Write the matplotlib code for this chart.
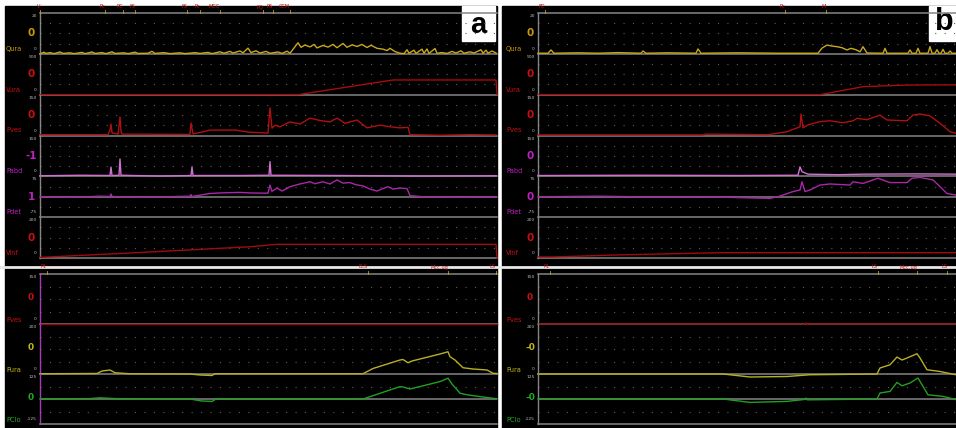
import matplotlib
matplotlib.use('Agg')
import matplotlib.pyplot as plt
from matplotlib.patches import Rectangle
from matplotlib.transforms import blended_transform_factory
import numpy as np

W, H = 956, 428

# ------------------------------------------------------------------ data
# t = seconds from the left axis of each panel, values in channel units
TOP_NAMES = ['Qura', 'Vura', 'Pves', 'Pabd', 'Pdet', 'Vinf']
TOP_LIMS = [(0, 20), (0, 500), (0, 150), (0, 150), (-75, 75), (0, 200)]
BOT_NAMES = ['Pves', 'Pura', 'PClo']
BOT_LIMS = [(0, 150), (0, 200), (-125, 125)]

A_TOP_READ = ['0', '0', '0', '-1', '1', '0']
B_TOP_READ = ['0', '0', '0', '0', '0', '0']
A_BOT_READ = ['0', '0', '0']
B_BOT_READ = ['0', '-0', '-0']

a_qura = [(0, 0), (4, 0.8), (6, 0.2), (10, 0.6), (14, 0.1), (20, 0.9), (23, 0.2),
          (30, 0.5), (34, 0.1), (42, 0.7), (45, 0.1), (52, 0.9), (55, 0.2), (62, 0.6),
          (66, 0.1), (72, 1.0), (75, 0.2), (84, 0.5), (88, 0.1), (95, 0.8), (98, 0.2),
          (108, 0.3), (112, 1.2), (115, 0.2), (124, 0.6), (130, 0.1), (140, 0.5),
          (145, 0.1), (155, 0.6), (160, 0.2), (168, 0.7), (172, 0.1), (180, 1.0),
          (184, 0.3), (190, 1.2), (193, 0.4), (200, 1.4), (203, 0.5), (208, 2.8),
          (211, 0.6), (216, 1.5), (220, 0.4), (226, 1.2), (230, 0.3), (238, 0.9),
          (242, 0.2), (247, 1.3), (250, 0.3), (255, 3.5), (258, 5.4), (261, 3.2),
          (265, 4.3), (270, 3.4), (274, 4.6), (277, 2.9), (283, 4.1), (288, 3.3),
          (293, 4.6), (297, 3.0), (303, 5.1), (307, 3.2), (312, 4.4), (317, 3.6),
          (322, 4.6), (327, 3.1), (331, 4.2), (337, 2.7), (343, 2.3), (347, 1.6),
          (350, 2.7), (355, 1.1), (360, 0.3), (364, 0.1), (367, 2.0), (369, 0.3),
          (374, 1.8), (376, 0.2), (382, 2.3), (384, 0.3), (387, 2.4), (389, 0.2),
          (395, 2.6), (397, 0.3), (402, 0.6), (407, 0.2), (412, 1.2), (416, 0.4),
          (421, 1.5), (424, 0.3), (430, 1.0), (434, 0.4), (441, 2.0), (443, 0.3),
          (446, 1.8), (448, 0.3), (452, 1.4), (456, 0.4)]
a_vura = [(0, 0), (258, 0), (353, 180), (456, 180), (457, 5)]
a_pves = [(0, 3), (68, 3), (70, 20), (71, 42), (72, 10), (78, 5), (80, 68), (81, 15),
          (82, 5), (150, 4), (151, 46), (153, 6), (165, 15), (170, 20), (195, 20),
          (210, 12), (228, 9), (230, 101), (232, 27), (235, 38), (240, 32), (250, 50),
          (260, 42), (270, 64), (280, 55), (290, 50), (297, 64), (305, 45), (317, 57),
          (327, 28), (340, 38), (350, 32), (360, 28), (368, 30), (370, 3), (400, 1),
          (430, 3), (456, 2)]
a_pabd = [(0, 2), (40, 4), (70, 3), (71, 34), (72, 3), (79, 4), (80, 64), (81, 4),
          (120, 1), (151, 3), (152, 34), (153, 3), (200, 3), (229, 4), (230, 54),
          (231, 4), (300, 3), (380, 1), (456, 2)]
a_pdet = [(0, 0), (30, -2), (60, 2), (70, 1), (71, 10), (72, 1), (100, -2), (150, 2),
          (151, 8), (152, 1), (170, 12), (180, 14), (200, 16), (210, 14), (228, 13),
          (230, 43), (232, 20), (237, 32), (242, 21), (250, 37), (260, 47), (270, 55),
          (275, 48), (283, 55), (290, 47), (297, 62), (303, 50), (310, 52), (316, 44),
          (323, 40), (330, 28), (337, 21), (343, 30), (348, 37), (353, 28), (360, 32),
          (367, 30), (370, 4), (383, 0), (420, -2), (457, 0)]
a_vinf = [(0, 3), (100, 27), (210, 55), (237, 67), (456, 67), (457, 0)]
a_pves2 = [(0, 0), (457, 0)]
a_pura = [(0, 1), (57, 2), (62, 12), (70, 16), (75, 5), (90, 1), (150, 0), (160, -4),
          (172, -6), (175, 1), (200, 1), (323, 1), (333, 22), (360, 56), (363, 58),
          (368, 45), (372, 52), (400, 80), (408, 89), (410, 69), (415, 56), (423, 25),
          (433, 20), (447, 16), (453, 3), (457, 2)]
a_pclo = [(0, 0), (50, 2), (60, 6), (75, 2), (150, 0), (162, -10), (172, -12),
          (176, 0), (323, 0), (360, 62), (363, 60), (370, 50), (400, 87), (408, 104),
          (412, 75), (420, 29), (427, 21), (440, 12), (457, 1)]

b_qura = [(0, 0.3), (10, 0.3), (13, 1.9), (16, 0.3), (40, 0.5), (60, 0.3), (80, 0.6),
          (103, 0.3), (105, 1.4), (108, 0.3), (130, 0.5), (158, 0.3), (160, 2.4),
          (163, 0.3), (200, 0.5), (240, 0.3), (280, 0.3), (284, 2.8), (289, 4.3),
          (294, 3.8), (299, 3.5), (304, 3.0), (309, 1.9), (313, 2.7), (318, 2.0),
          (322, 1.0), (325, 3.5), (329, 0.4), (345, 0.3), (347, 2.7), (349, 0.3),
          (370, 0.3), (372, 1.9), (374, 0.3), (378, 0.3), (380, 2.7), (382, 0.3),
          (390, 0.3), (392, 3.5), (394, 0.3), (397, 0.3), (399, 2.0), (401, 0.3),
          (403, 0.3), (405, 2.2), (407, 0.3), (410, 0.3), (412, 1.4), (414, 0.3),
          (418, 0.3)]
b_vura = [(0, 0), (282, 0), (325, 98), (369, 118), (418, 120)]
b_pves = [(0, 2), (165, 2), (168, 5), (230, 3), (249, 14), (262, 32), (263, 79),
          (265, 28), (270, 39), (282, 51), (292, 54), (305, 47), (315, 54), (319, 63),
          (329, 58), (342, 75), (349, 57), (369, 54), (375, 75), (382, 79), (392, 72),
          (404, 39), (412, 14), (418, 8)]
b_pabd = [(0, 3), (100, 4), (200, 3), (260, 4), (262, 35), (264, 17), (270, 8),
          (300, 6), (325, 8), (380, 9), (418, 8)]
b_pdet = [(0, 0), (60, 2), (120, -1), (167, 0), (232, -6), (240, 0), (255, 19),
          (262, 25), (264, 55), (267, 19), (272, 25), (282, 43), (292, 47), (312, 43),
          (315, 55), (325, 49), (340, 68), (352, 52), (369, 52), (374, 68), (382, 71),
          (395, 62), (402, 37), (409, 12), (418, 6)]
b_vinf = [(0, 5), (14, 5), (80, 15), (182, 26), (418, 26)]
b_pves2 = [(0, 0), (267, 0), (268, 4), (269, -2), (270, 0), (418, 0)]
b_pura = [(0, 0), (185, 0), (212, -12), (249, -10), (272, -3), (339, 0), (342, 24),
          (352, 37), (359, 68), (364, 56), (369, 64), (379, 81), (382, 64), (389, 17),
          (402, 10), (418, -3)]
b_pclo = [(0, 0), (185, 0), (212, -17), (249, -12), (267, -2), (268, 5), (269, -4),
          (272, -4), (339, 0), (342, 30), (352, 38), (359, 83), (364, 66), (372, 80),
          (380, 105), (385, 63), (390, 21), (405, 13), (418, -3)]

# event markers (time, label)
a_top_events = [(0, 'V'), (65, 'Pc'), (83, 'PC'), (95, 'FS'), (147, 'FS'), (160, 'Pc'),
                (180, 'MCC'), (223, 'PQ'), (233, 'PS'), (250, 'CCM')]
b_top_events = [(7, 'FD'), (247, 'Pc'), (288, 'M')]
a_bot_events = [(7, 'P1'), (328, 'ELS'), (408, 'Mcc.ug'), (456, 'LS')]
b_bot_events = [(12, 'P1'), (340, 'LS'), (379, 'Mcc.ug'), (409, 'LS')]

# ---------------------------------------------------------------- styling
TOP_TRACE = ['#c9a81a', '#a80c0c', '#b01010', '#d070d0', '#a828a8', '#a00c0c']
TOP_TEXT = ['#c89a00', '#c81010', '#c81010', '#c020c0', '#c020c0', '#c81010']
BOT_TRACE = ['#900808', '#b8b024', '#22a022']
BOT_TEXT = ['#c81010', '#c0b818', '#20a820']
GRAY = '#858585'
DOT = '#5c5c5c'
EV = '#c01010'

fig = plt.figure(figsize=(W / 100, H / 100), dpi=100, facecolor='white')
bg = fig.add_axes([0, 0, 1, 1])
bg.set_xlim(0, W); bg.set_ylim(H, 0); bg.axis('off')
bg.add_patch(Rectangle((5, 6), 492, 422, color='black', zorder=0))
bg.add_patch(Rectangle((502, 6), 454, 422, color='black', zorder=0))
bg.plot([0, W], [266.5, 266.5], color='#e8e8e8', lw=2.0, zorder=1)


def strip(left, right, top, bot, tmax, lims):
    ax = fig.add_axes([left / W, 1 - bot / H, (right - left) / W, (bot - top) / H])
    ax.set_xlim(0, tmax); ax.set_ylim(*lims)
    ax.axis('off'); ax.patch.set_alpha(0)
    lo, hi = lims
    for f in (0.25, 0.5, 0.75):
        if lo < 0 and f == 0.5:
            continue
        ax.axhline(lo + f * (hi - lo), color=DOT, lw=0.8, ls=(0, (1, 7.5)), zorder=1)
    ax.axhline(lo, color=GRAY, lw=1.1, zorder=2, clip_on=False)
    if lo < 0:
        ax.axhline(0, color=GRAY, lw=1.1, zorder=2)
    return ax


def trace(ax, pts, color):
    p = np.array(pts, dtype=float)
    ax.plot(p[:, 0], p[:, 1], color=color, lw=1.0, zorder=3, clip_on=False)


def events(ax, evs):
    tr = blended_transform_factory(ax.transData, ax.transAxes)
    for t, lab in evs:
        ax.plot([t, t], [1.0, 1.07], color='#c8a020', lw=0.6, transform=tr,
                clip_on=False, zorder=4)
        ax.text(t, 1.09, lab, color=EV, fontsize=3.6, ha='right', va='bottom',
                transform=tr, clip_on=False)


def panel(left, right, tmax, tops, bots, top_read, bot_read, top_ev, bot_ev,
          name_x, read_x, bot_axis):
    h = (258 - 13) / 6
    axes = []
    for i in range(6):
        t0 = 13 + i * h
        ax = strip(left, right, t0, t0 + h, tmax, TOP_LIMS[i])
        trace(ax, tops[i], TOP_TRACE[i])
        ax.axvline(0, color=GRAY, lw=1.0, clip_on=False)
        axes.append(ax)
        lo, hi = TOP_LIMS[i]
        bg.text(name_x, t0 + h - 2, TOP_NAMES[i], color=TOP_TEXT[i], fontsize=4.8,
                ha='left', va='bottom')
        bg.text(read_x, t0 + h / 2, top_read[i], color=TOP_TEXT[i], fontsize=7.5,
                fontweight='bold', ha='center', va='center')
        bg.text(left - 3, t0 + 1, f'{hi:g}', color='#bbbbbb', fontsize=3.2,
                ha='right', va='top')
        bg.text(left - 3, t0 + h - 3, f'{lo:g}', color='#bbbbbb', fontsize=3.2,
                ha='right', va='bottom')
    axes[0].axhline(TOP_LIMS[0][1], color=GRAY, lw=1.1, clip_on=False)
    events(axes[0], top_ev)

    axes = []
    for i in range(3):
        t0 = 274 + i * 50
        ax = strip(left, right, t0, t0 + 50, tmax, BOT_LIMS[i])
        trace(ax, bots[i], BOT_TRACE[i])
        ax.axvline(0, color=bot_axis, lw=1.0, clip_on=False)
        axes.append(ax)
        lo, hi = BOT_LIMS[i]
        bg.text(name_x, t0 + 49, BOT_NAMES[i], color=BOT_TEXT[i], fontsize=4.8,
                ha='left', va='bottom')
        bg.text(read_x, t0 + 24, bot_read[i], color=BOT_TEXT[i], fontsize=6.5,
                fontweight='bold', ha='center', va='center')
        bg.text(left - 3, t0 + 1, f'{hi:g}', color='#bbbbbb', fontsize=3.2,
                ha='right', va='top')
        bg.text(left - 3, t0 + 47, f'{lo:g}', color='#bbbbbb', fontsize=3.2,
                ha='right', va='bottom')
    axes[0].axhline(BOT_LIMS[0][1], color=GRAY, lw=1.1, clip_on=False)
    events(axes[0], bot_ev)


panel(40, 497, 457,
      [a_qura, a_vura, a_pves, a_pabd, a_pdet, a_vinf], [a_pves2, a_pura, a_pclo],
      A_TOP_READ, A_BOT_READ, a_top_events, a_bot_events, 6, 31, '#a040b0')
panel(538, 956, 418,
      [b_qura, b_vura, b_pves, b_pabd, b_pdet, b_vinf], [b_pves2, b_pura, b_pclo],
      B_TOP_READ, B_BOT_READ, b_top_events, b_bot_events, 506, 530, GRAY)

# panel letters
bg.add_patch(Rectangle((462, 6), 33, 35, color='white', zorder=5))
bg.text(478.5, 25, 'a', fontsize=21, fontweight='bold', family='Liberation Sans',
        ha='center', va='center', zorder=6)
bg.add_patch(Rectangle((929, 6), 27, 35, color='white', zorder=5))
bg.text(944, 22, 'b', fontsize=22, fontweight='bold', family='Liberation Sans',
        ha='center', va='center', zorder=6)

fig.savefig('out.png', dpi=100, facecolor='white')
